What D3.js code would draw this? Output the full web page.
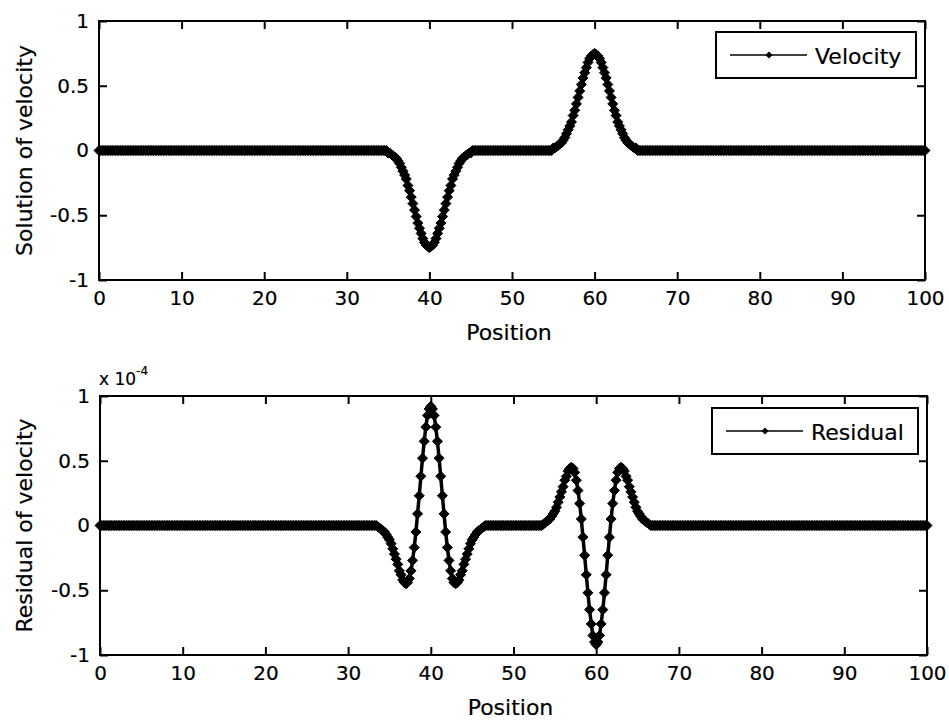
<!DOCTYPE html>
<html>
<head>
<meta charset="utf-8">
<script src="https://cdn.jsdelivr.net/npm/d3@7"></script>
<style>
  body { margin: 0; background: #fff; }
  svg { display: block; font-family: "DejaVu Sans", sans-serif; }
  svg text { stroke: #000; stroke-width: 0.2px; }
</style>
</head>
<body>
<svg id="chart" width="949" height="723"></svg>
<script>
// sample grid, 0:0.2:100
let step = 0.2;
let positions = d3.range(501).map(i => +(i * step).toFixed(1));

let velocity = [
	0,0,0,0,0,0,0,0,0,0, 0,0,0,0,0,0,0,0,0,0, 0,0,0,0,0,0,0,0,0,0, 0,0,0,0,0,0,0,0,0,0,
	0,0,0,0,0,0,0,0,0,0, 0,0,0,0,0,0,0,0,0,0, 0,0,0,0,0,0,0,0,0,0, 0,0,0,0,0,0,0,0,0,0,
	0,0,0,0,0,0,0,0,0,0, 0,0,0,0,0,0,0,0,0,0, 0,0,0,0,0,0,0,0,0,0, 0,0,0,0,0,0,0,0,0,0,
	0,0,0,0,0,0,0,0,0,0, 0,0,0,0,0,0,0,0,0,0, 0,0,0,0,0,0,0,0,0,0, 0,0,0,0,0,0,0,0,0,0,
	0,0,0,0,0,0,0,0,0,0, 0,0,0,0,0,
	-0.02,-0.02,-0.03,-0.04,-0.05,-0.06,-0.08,-0.10,-0.13,-0.16,
	-0.19,-0.22,-0.27,-0.31,-0.36,-0.41,-0.46,-0.51,-0.56,-0.60,
	-0.64,-0.68,-0.71,-0.73,-0.74,-0.75,-0.74,-0.73,-0.71,-0.68,
	-0.64,-0.60,-0.56,-0.51,-0.46,-0.41,-0.36,-0.31,-0.27,-0.22,
	-0.19,-0.16,-0.13,-0.10,-0.08,-0.06,-0.05,-0.04,-0.03,-0.02,
	-0.02,
	0,0,0,0,0,0,0,0,0,0, 0,0,0,0,0,0,0,0,0,0, 0,0,0,0,0,0,0,0,0,0, 0,0,0,0,0,0,0,0,0,0,
	0,0,0,0,0,0,0,0,0,
	0.02,0.02,0.03,0.04,0.05,0.06,0.08,0.10,0.13,0.16,
	0.19,0.22,0.27,0.31,0.36,0.41,0.46,0.51,0.56,0.60,
	0.64,0.68,0.71,0.73,0.74,0.75,0.74,0.73,0.71,0.68,
	0.64,0.60,0.56,0.51,0.46,0.41,0.36,0.31,0.27,0.22,
	0.19,0.16,0.13,0.10,0.08,0.06,0.05,0.04,0.03,0.02,
	0.02,
	0,0,0,0,0,0,0,0,0,0, 0,0,0,0,0,0,0,0,0,0, 0,0,0,0,0,0,0,0,0,0, 0,0,0,0,0,0,0,0,0,0,
	0,0,0,0,0,0,0,0,0,0, 0,0,0,0,0,0,0,0,0,0, 0,0,0,0,0,0,0,0,0,0, 0,0,0,0,0,0,0,0,0,0,
	0,0,0,0,0,0,0,0,0,0, 0,0,0,0,0,0,0,0,0,0, 0,0,0,0,0,0,0,0,0,0, 0,0,0,0,0,0,0,0,0,0,
	0,0,0,0,0,0,0,0,0,0, 0,0,0,0,0,0,0,0,0,0, 0,0,0,0,0,0,0,0,0,0, 0,0,0,0,0,0,0,0,0,0,
	0,0,0,0,0,0,0,0,0,0, 0,0,0,0,0
];

// residual, in units of 1e-4
let residual = [
	0,0,0,0,0,0,0,0,0,0, 0,0,0,0,0,0,0,0,0,0, 0,0,0,0,0,0,0,0,0,0, 0,0,0,0,0,0,0,0,0,0,
	0,0,0,0,0,0,0,0,0,0, 0,0,0,0,0,0,0,0,0,0, 0,0,0,0,0,0,0,0,0,0, 0,0,0,0,0,0,0,0,0,0,
	0,0,0,0,0,0,0,0,0,0, 0,0,0,0,0,0,0,0,0,0, 0,0,0,0,0,0,0,0,0,0, 0,0,0,0,0,0,0,0,0,0,
	0,0,0,0,0,0,0,0,0,0, 0,0,0,0,0,0,0,0,0,0, 0,0,0,0,0,0,0,0,0,0, 0,0,0,0,0,0,0,0,0,0,
	0,0,0,0,0,0,0,0,
	-0.01,-0.02,-0.03,-0.04,-0.05,-0.07,-0.09,-0.11,-0.14,-0.18,
	-0.22,-0.26,-0.30,-0.35,-0.38,-0.42,-0.44,-0.45,-0.44,-0.41,
	-0.35,-0.27,-0.17,-0.05,0.09,0.23,0.38,0.52,0.65,0.76,
	0.85,0.90,0.92,0.90,0.85,0.76,0.65,0.52,0.38,0.23,
	0.09,-0.05,-0.17,-0.27,-0.35,-0.41,-0.44,-0.45,-0.44,-0.42,
	-0.38,-0.35,-0.30,-0.26,-0.22,-0.18,-0.14,-0.11,-0.09,-0.07,
	-0.05,-0.04,-0.03,-0.02,-0.01,
	0,0,0,0,0,0,0,0,0,0, 0,0,0,0,0,0,0,0,0,0, 0,0,0,0,0,0,0,0,0,0, 0,0,0,0,0,
	0.01,0.02,0.03,0.04,0.05,0.07,0.09,0.11,0.14,0.18,
	0.22,0.26,0.30,0.35,0.38,0.42,0.44,0.45,0.44,0.41,
	0.35,0.27,0.17,0.05,-0.09,-0.23,-0.38,-0.52,-0.65,-0.76,
	-0.85,-0.90,-0.92,-0.90,-0.85,-0.76,-0.65,-0.52,-0.38,-0.23,
	-0.09,0.05,0.17,0.27,0.35,0.41,0.44,0.45,0.44,0.42,
	0.38,0.35,0.30,0.26,0.22,0.18,0.14,0.11,0.09,0.07,
	0.05,0.04,0.03,0.02,0.01,
	0,0,0,0,0,0,0,0,0,0, 0,0,0,0,0,0,0,0,0,0, 0,0,0,0,0,0,0,0,0,0, 0,0,0,0,0,0,0,0,0,0,
	0,0,0,0,0,0,0,0,0,0, 0,0,0,0,0,0,0,0,0,0, 0,0,0,0,0,0,0,0,0,0, 0,0,0,0,0,0,0,0,0,0,
	0,0,0,0,0,0,0,0,0,0, 0,0,0,0,0,0,0,0,0,0, 0,0,0,0,0,0,0,0,0,0, 0,0,0,0,0,0,0,0,0,0,
	0,0,0,0,0,0,0,0,0,0, 0,0,0,0,0,0,0,0,0,0, 0,0,0,0,0,0,0,0,0,0, 0,0,0,0,0,0,0,0,0,0,
	0,0,0,0,0,0,0,0
];

let xTicks = [0, 10, 20, 30, 40, 50, 60, 70, 80, 90, 100];
let yTicks = [-1, -0.5, 0, 0.5, 1];
let yTickLabels = ['-1', '-0.5', '0', '0.5', '1'];

if (velocity.length !== positions.length || residual.length !== positions.length)
	console.error('length mismatch', positions.length, velocity.length, residual.length);

let svg = d3.select('#chart');
svg.append('rect').attr('width', 949).attr('height', 723).attr('fill', '#fff');

// matlab style diamond marker
let diamond = {
	draw: function(ctx, size) {
		let r = Math.sqrt(size / 2);
		ctx.moveTo(0, -r);
		ctx.lineTo(r, 0);
		ctx.lineTo(0, r);
		ctx.lineTo(-r, 0);
		ctx.closePath();
	}
};

function drawPanel(p) {
	let x = d3.scaleLinear().domain([0, 100]).range([p.left, p.right]);
	let y = d3.scaleLinear().domain([-1, 1]).range([p.bottom, p.top]);
	let g = svg.append('g');

	let pts = positions.map((px, i) => [px, p.values[i]]);

	g.append('path')
		.datum(pts)
		.attr('fill', 'none')
		.attr('stroke', '#000')
		.attr('stroke-width', 3.5)
		.attr('d', d3.line().x(d => x(d[0])).y(d => y(d[1])));

	g.selectAll('path.mk')
		.data(pts)
		.enter().append('path')
			.attr('class', 'mk')
			.attr('transform', d => 'translate(' + x(d[0]) + ',' + y(d[1]) + ')')
			.attr('d', d3.symbol().type(diamond).size(50))
			.attr('fill', '#000')
			.attr('stroke', '#000')
			.attr('stroke-width', 1);

	// axes, ticks pointing inward
	let fmtY = d => yTickLabels[yTicks.indexOf(d)];
	let bottomAxis = g.append('g')
		.attr('transform', 'translate(0,' + p.bottom + ')')
		.call(d3.axisBottom(x).tickValues(xTicks).tickSize(-8).tickPadding(11).tickFormat(d => String(d)));
	let topAxis = g.append('g')
		.attr('transform', 'translate(0,' + p.top + ')')
		.call(d3.axisTop(x).tickValues(xTicks).tickSize(-8).tickFormat(''));
	let leftAxis = g.append('g')
		.attr('transform', 'translate(' + p.left + ',0)')
		.call(d3.axisLeft(y).tickValues(yTicks).tickSize(-8).tickPadding(10).tickFormat(fmtY));
	let rightAxis = g.append('g')
		.attr('transform', 'translate(' + p.right + ',0)')
		.call(d3.axisRight(y).tickValues(yTicks).tickSize(-8).tickFormat(''));

	[bottomAxis, topAxis, leftAxis, rightAxis].forEach(a => {
		a.select('.domain').remove();
		a.selectAll('line').attr('stroke', '#000').attr('stroke-width', 2);
		a.selectAll('text').attr('fill', '#000').attr('font-size', '20px')
			.attr('font-family', '"DejaVu Sans", sans-serif');
	});

	g.append('rect')
		.attr('x', p.left).attr('y', p.top)
		.attr('width', p.right - p.left).attr('height', p.bottom - p.top)
		.attr('fill', 'none').attr('stroke', '#000').attr('stroke-width', 2);

	g.append('text')
		.attr('x', (p.left + p.right) / 2 - 3)
		.attr('y', p.bottom + 60)
		.attr('text-anchor', 'middle')
		.attr('font-size', '22px')
		.text('Position');

	g.append('text')
		.attr('transform', 'translate(32,' + (p.top + p.bottom) / 2 + ') rotate(-90)')
		.attr('text-anchor', 'middle')
		.attr('font-size', '22px')
		.text(p.ylabel);

	// legend
	let L = p.legend;
	g.append('rect')
		.attr('x', L.x).attr('y', L.y).attr('width', L.w).attr('height', L.h)
		.attr('fill', '#fff').attr('stroke', '#000').attr('stroke-width', 2);
	g.append('line')
		.attr('x1', L.x + 14).attr('x2', L.x + 91)
		.attr('y1', L.y + L.h / 2).attr('y2', L.y + L.h / 2)
		.attr('stroke', '#000').attr('stroke-width', 1.5);
	g.append('path')
		.attr('transform', 'translate(' + (L.x + 53) + ',' + (L.y + L.h / 2) + ')')
		.attr('d', d3.symbol().type(diamond).size(26))
		.attr('fill', '#000');
	g.append('text')
		.attr('x', L.x + 99)
		.attr('y', L.y + L.h / 2 + 9)
		.attr('font-size', '22px')
		.text(L.label);
}

drawPanel({
	left: 99, right: 925, top: 21, bottom: 280,
	values: velocity,
	ylabel: 'Solution of velocity',
	legend: { x: 716, y: 32, w: 200, h: 46, label: 'Velocity' }
});

drawPanel({
	left: 100, right: 927, top: 396, bottom: 655,
	values: residual,
	ylabel: 'Residual of velocity',
	legend: { x: 712, y: 408, w: 206, h: 46, label: 'Residual' }
});

// exponent label of the lower y axis
let expLabel = svg.append('text')
	.attr('x', 99)
	.attr('y', 385)
	.attr('font-size', '17px');
expLabel.append('tspan').text('x 10');
expLabel.append('tspan').attr('dy', -10).attr('font-size', '12px').text('-4');
</script>
</body>
</html>
